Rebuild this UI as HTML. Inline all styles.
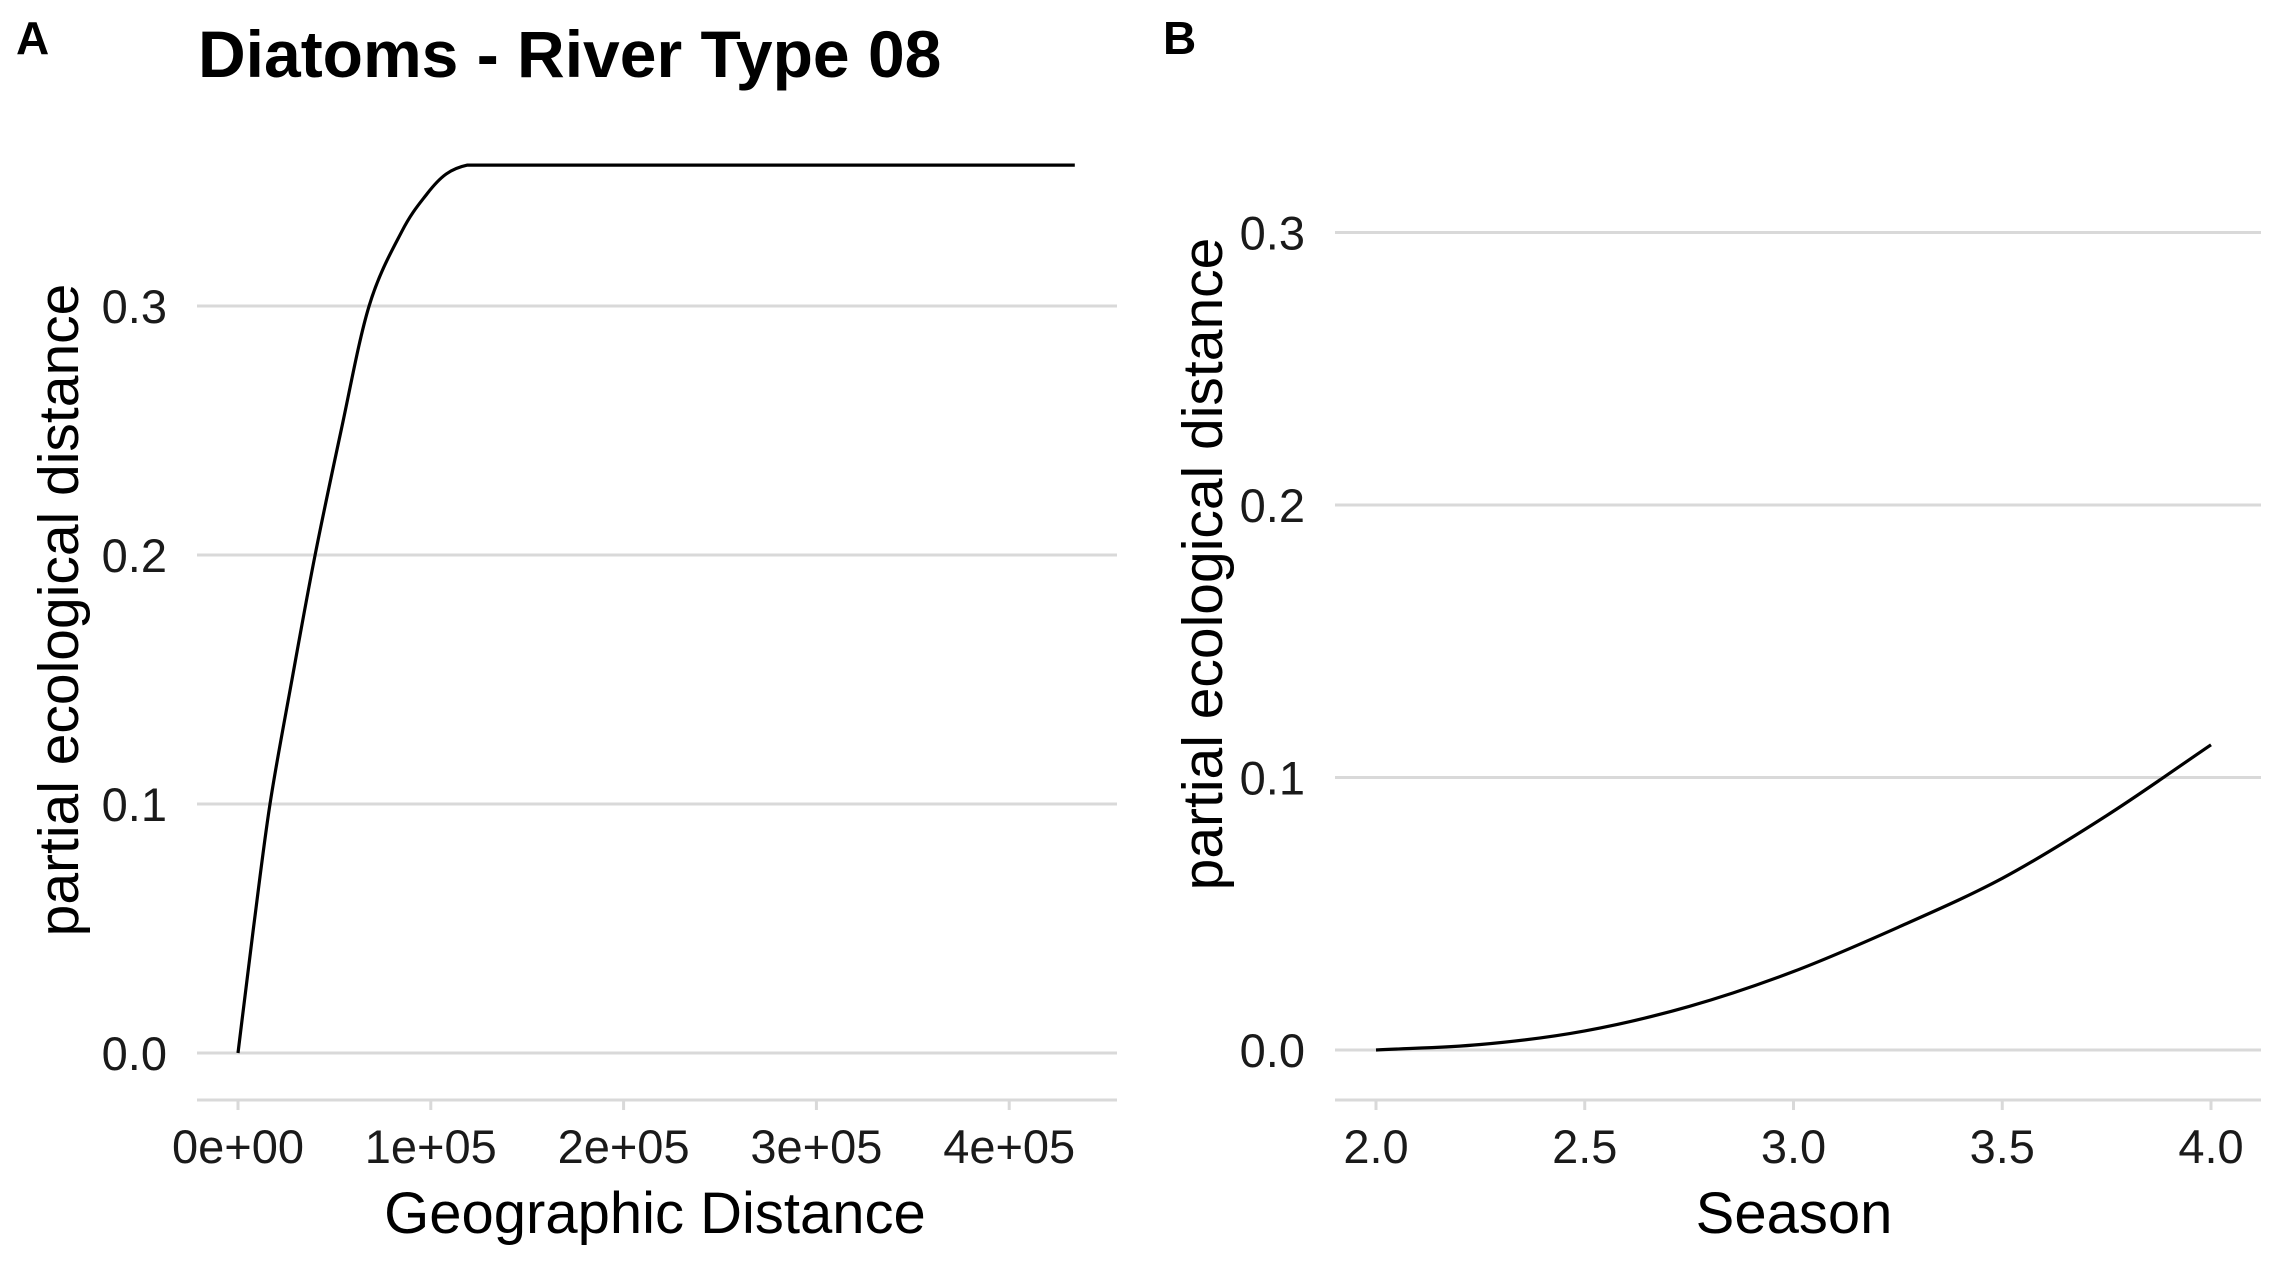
<!DOCTYPE html>
<html><head><meta charset="utf-8"><style>
html,body{margin:0;padding:0;background:#fff}
svg{display:block;font-family:"Liberation Sans",Arial,sans-serif}
</style></head><body>
<svg id="fig" width="2281" height="1268" viewBox="0 0 2281 1268" xmlns="http://www.w3.org/2000/svg">
<text x="16" y="54" font-size="46" font-weight="bold">A</text>
<text x="198" y="77" font-size="66" font-weight="bold">Diatoms - River Type 08</text>
<text x="1163" y="54" font-size="46" font-weight="bold">B</text>
<g id="pa"></g>
<g id="pb"></g>
</svg>
<script>
const NS="http://www.w3.org/2000/svg";
// Panel A data
const aX=[0,8000,16600,28000,40000,53500,68000,85000,98000,108000,119000,200000,300000,434000];
const aY=[0,0.05,0.1,0.15,0.2,0.25,0.3,0.33,0.345,0.353,0.3566,0.3566,0.3566,0.3566];
const aYTicks=[0,0.1,0.2,0.3];
const aYTickLabels=["0.0","0.1","0.2","0.3"];
const aXTicks=[0,100000,200000,300000,400000];
const aXTickLabels=["0e+00","1e+05","2e+05","3e+05","4e+05"];
// Panel B data
const bX=[2.0,2.25,2.5,2.75,3.0,3.25,3.5,3.75,4.0];
const bY=[0,0.002,0.007,0.016,0.0288,0.045,0.063,0.086,0.112];
const bYTicks=[0,0.1,0.2,0.3];
const bYTickLabels=["0.0","0.1","0.2","0.3"];
const bXTicks=[2.0,2.5,3.0,3.5,4.0];
const bXTickLabels=["2.0","2.5","3.0","3.5","4.0"];

function mk(tag,attrs,parent){const e=document.createElementNS(NS,tag);for(const k in attrs)e.setAttribute(k,attrs[k]);parent.appendChild(e);return e;}

function smooth(pts){
  let d='M'+pts[0][0].toFixed(1)+','+pts[0][1].toFixed(1);
  const n=pts.length;
  for(let i=0;i<n-1;i++){
    const p1=pts[i],p2=pts[i+1];
    if(p1[1]===p2[1]){d+=` L${p2[0].toFixed(1)},${p2[1].toFixed(1)}`;continue;}
    let p0=i>0?pts[i-1]:[2*p1[0]-p2[0],2*p1[1]-p2[1]];
    let p3=i+2<n?pts[i+2]:[2*p2[0]-p1[0],2*p2[1]-p1[1]];
    if(p3[1]===p2[1]) p3=[2*p2[0]-p1[0],p2[1]];
    const c1=[p1[0]+(p2[0]-p0[0])/6,p1[1]+(p2[1]-p0[1])/6];
    const c2=[p2[0]-(p3[0]-p1[0])/6,p2[1]-(p3[1]-p1[1])/6];
    d+=` C${c1[0].toFixed(1)},${c1[1].toFixed(1)} ${c2[0].toFixed(1)},${c2[1].toFixed(1)} ${p2[0].toFixed(1)},${p2[1].toFixed(1)}`;
  }
  return d;
}

function panel(g,cfg){
  const sx=v=>cfg.x0+(v-cfg.xd0)*cfg.xs;
  const sy=v=>cfg.y0-v*cfg.ys;
  cfg.yTicks.forEach((t,i)=>{
    const l=mk('line',{x1:cfg.gl,x2:cfg.gr,y1:sy(t),y2:sy(t),stroke:'#d9d9d9','stroke-width':3},g);
    
    
    const tx=mk('text',{x:cfg.gl-30,y:sy(t)+17,'font-size':47,'text-anchor':'end',fill:'#1a1a1a'},g);
    tx.textContent=cfg.yLabels[i];
    
    
  });
  const ax=mk('line',{x1:cfg.gl,x2:cfg.gr,y1:1100,y2:1100,stroke:'#d9d9d9','stroke-width':3},g);
  
  
  cfg.xTicks.forEach((t,i)=>{
    const tk=mk('line',{x1:sx(t),x2:sx(t),y1:1100,y2:1110,stroke:'#d9d9d9','stroke-width':3},g);
    
    
    const tx=mk('text',{x:sx(t),y:1163,'font-size':47,'text-anchor':'middle',fill:'#1a1a1a'},g);
    tx.textContent=cfg.xLabels[i];
    
    
  });
  const pts=cfg.xs_data.map((v,i)=>[sx(v),sy(cfg.ys_data[i])]);
  const p=mk('path',{d:smooth(pts),fill:'none',stroke:'#000','stroke-width':3.2,'stroke-linejoin':'round'},g);
  
  
  const xt=mk('text',{x:cfg.xtx,y:1233,'font-size':58,'text-anchor':'middle',fill:'#000'},g);
  xt.textContent=cfg.xTitle;
  
  
  const yt=mk('text',{x:0,y:0,'font-size':57,'text-anchor':'middle',fill:'#000',transform:`translate(${cfg.ytx},${cfg.yty}) rotate(-90)`},g);
  yt.textContent='partial ecological distance';
  
  
}
panel(document.getElementById('pa'),{x0:238,xd0:0,xs:192.8/100000,y0:1053,ys:2490,gl:197,gr:1117,
  yTicks:aYTicks,yLabels:aYTickLabels,xTicks:aXTicks,xLabels:aXTickLabels,xs_data:aX,ys_data:aY,
  xTitle:'Geographic Distance',xtx:655,ytx:78,yty:610});
panel(document.getElementById('pb'),{x0:1376,xd0:2,xs:417.5,y0:1050,ys:2725,gl:1335,gr:2261,
  yTicks:bYTicks,yLabels:bYTickLabels,xTicks:bXTicks,xLabels:bXTickLabels,xs_data:bX,ys_data:bY,
  xTitle:'Season',xtx:1794,ytx:1222,yty:564});
</script>
</body></html>
